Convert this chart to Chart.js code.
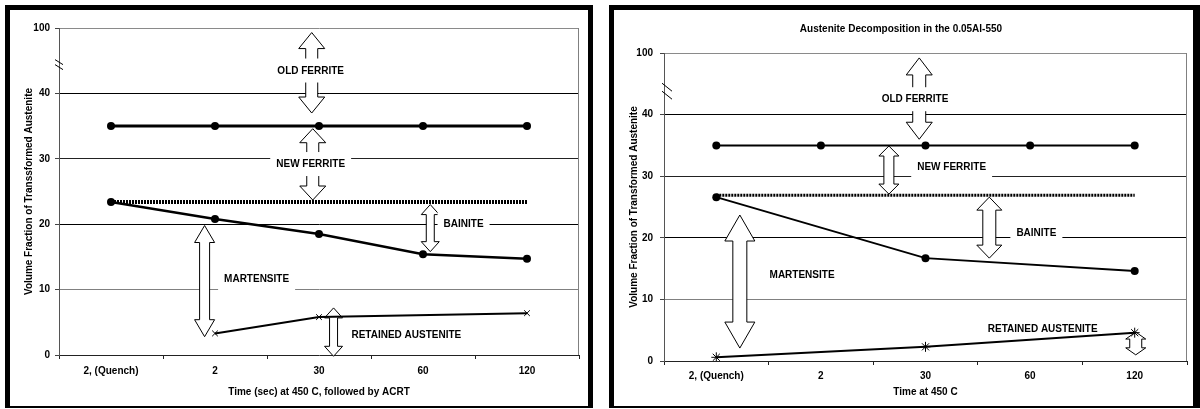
<!DOCTYPE html>
<html><head><meta charset="utf-8">
<script src="https://cdn.jsdelivr.net/npm/chart.js@4.4.1/dist/chart.umd.min.js"></script>
<style>
html,body{margin:0;padding:0;background:#fff;width:1200px;height:409px;overflow:hidden;}
.frame{position:absolute;box-sizing:border-box;border:5px solid #000;border-bottom-width:2px;background:#fff;}
#f1{left:5px;top:5px;width:588px;height:403px;}
#f2{left:609px;top:5px;width:591px;height:403px;border-right-width:7px;}
canvas{position:absolute;}
#c1{left:10px;top:10px;}
#c2{left:614px;top:10px;}
</style></head><body>
<div class="frame" id="f1"></div><div class="frame" id="f2"></div>
<canvas id="c1" width="578" height="396" style="width:578px;height:396px"></canvas>
<canvas id="c2" width="579" height="396" style="width:579px;height:396px"></canvas>
<script>
// ---------- data ----------
const categories = ['2, (Quench)', '2', '30', '60', '120'];
const yTickValues = [0, 10, 20, 30, 40, 50];
const yTickLabels = ['0', '10', '20', '30', '40', '100'];

// left chart (ACRT)
const leftFerrite = [35, 35, 35, 35, 35];
const leftDotted = [23.4, 23.4, 23.4, 23.4, 23.4];
const leftBainiteEdge = [23.4, 20.8, 18.5, 15.4, 14.7];
const leftRetained = [null, 3.3, 5.8, null, 6.4];
const leftPhaseNames = ['OLD FERRITE', 'NEW FERRITE', 'BAINITE', 'MARTENSITE', 'RETAINED AUSTENITE'];
const leftArrowCat = [1.93, 1.94, 3.07, 0.90, 2.14];
const leftArrowFrom = [49.3, 34.6, 23.0, 19.8, 7.2];
const leftArrowTo = [37.0, 23.7, 15.8, 2.8, -0.2];
const leftLabelCat = [1.92, 1.92, 3.39, 1.40, 2.84];
const leftLabelVal = [43.5, 29.2, 20.0, 11.6, 3.1];

// right chart (0.05Al-550)
const rightFerrite = [35, 35, 35, 35, 35];
const rightDotted = [26.9, 26.9, 26.9, 26.9, 26.9];
const rightBainiteEdge = [26.6, null, 16.7, null, 14.6];
const rightRetained = [0.6, null, 2.3, null, 4.6];
const rightPhaseNames = ['OLD FERRITE', 'NEW FERRITE', 'BAINITE', 'MARTENSITE', 'RETAINED AUSTENITE'];
const rightArrowCat = [1.94, 1.65, 2.61, 0.225, 4.01];
const rightArrowFrom = [49.2, 34.9, 26.6, 23.7, 4.7];
const rightArrowTo = [36.0, 27.1, 16.7, 2.1, 1.0];
const rightLabelCat = [1.90, 2.25, 3.06, 0.82, 3.12];
const rightLabelVal = [42.5, 31.5, 20.8, 14.0, 5.2];

// ---------- styles ----------
const FONT = 'Liberation Sans, Arial, sans-serif';
const bold10 = {family: FONT, size: 10, weight: 'bold'};
const gridColors = {0: 'rgba(0,0,0,0)', 10: '#808080', 20: '#000', 30: '#222', 40: '#000', 50: '#8a8a8a'};
// arrow pixel geometry: [head half-width, shaft half-width, head length]
const leftArrowGeom = [[13, 6, 16], [13, 6, 14], [9, 4, 10], [10, 5, 17], [9, 4, 10]];
const rightArrowGeom = [[13, 6.5, 17], [10, 5, 10], [12.5, 6.5, 13], [15, 7, 26], [10, 6, 7]];

const phasePlugin = {
  id: 'phases',
  beforeDatasetsDraw(chart, args, o) {
    const {ctx, chartArea: a, scales: {x, y}} = chart;
    ctx.save();
    ctx.strokeStyle = '#808080'; ctx.lineWidth = 1;
    ctx.beginPath(); ctx.moveTo(Math.round(a.right) - 0.5, a.top); ctx.lineTo(Math.round(a.right) - 0.5, a.bottom); ctx.stroke();
    ctx.strokeStyle = '#000'; ctx.fillStyle = '#fff'; ctx.lineWidth = 1;
    o.arrowCat.forEach((c, i) => {
      const cx = x.getPixelForValue(c);
      const yt = y.getPixelForValue(o.arrowFrom[i]);
      const yb = y.getPixelForValue(o.arrowTo[i]);
      const [hw, sw, hl] = o.geom[i];
      ctx.beginPath();
      ctx.moveTo(cx, yt);
      ctx.lineTo(cx + hw, yt + hl); ctx.lineTo(cx + sw, yt + hl);
      ctx.lineTo(cx + sw, yb - hl); ctx.lineTo(cx + hw, yb - hl);
      ctx.lineTo(cx, yb);
      ctx.lineTo(cx - hw, yb - hl); ctx.lineTo(cx - sw, yb - hl);
      ctx.lineTo(cx - sw, yt + hl); ctx.lineTo(cx - hw, yt + hl);
      ctx.closePath(); ctx.fill(); ctx.stroke();
    });
    ctx.font = 'bold 10px ' + FONT;
    ctx.textAlign = 'center'; ctx.textBaseline = 'middle';
    o.names.forEach((t, i) => {
      const px = x.getPixelForValue(o.labelCat[i]);
      const py = y.getPixelForValue(o.labelVal[i]);
      const w = ctx.measureText(t).width + 12;
      ctx.fillStyle = '#fff';
      ctx.fillRect(px - w / 2, py - 12, w, 24);
      ctx.fillStyle = '#000';
      ctx.fillText(t, px, py + 0.5);
    });
    ctx.restore();
  },
  afterDraw(chart, args, o) {
    const {ctx, scales: {x, y}} = chart;
    const ax = x.left;
    const yb = y.getPixelForValue(o.breakAt);
    const [dx0, dx1, dy, gap] = o.breakGeom;
    ctx.save();
    ctx.strokeStyle = '#000'; ctx.lineWidth = 1;
    [-gap / 2, gap / 2].forEach(off => {
      ctx.beginPath();
      ctx.moveTo(ax + dx0, yb + off - dy);
      ctx.lineTo(ax + dx1, yb + off + dy);
      ctx.stroke();
    });
    ctx.restore();
  }
};

function makeChart(id, cfg) {
  return new Chart(document.getElementById(id), {
    type: 'line',
    data: {
      labels: categories,
      datasets: [
        {data: cfg.dotted, borderColor: '#000', borderWidth: cfg.dotW, borderDash: [2, 1], pointRadius: 0, borderCapStyle: 'butt'},
        {data: cfg.ferrite, borderColor: '#000', borderWidth: cfg.lineW1, pointRadius: 4, pointBackgroundColor: '#000', pointBorderColor: '#000', pointBorderWidth: 0},
        {data: cfg.bainite, borderColor: '#000', borderWidth: cfg.lineW2, pointRadius: 4, pointBackgroundColor: '#000', pointBorderColor: '#000', pointBorderWidth: 0, spanGaps: true},
        {data: cfg.retained, borderColor: '#000', borderWidth: 2, pointStyle: cfg.marker, pointRadius: cfg.markerR, pointBorderColor: '#000', pointBorderWidth: 1, pointBackgroundColor: '#000', spanGaps: true}
      ]
    },
    options: {
      responsive: false, animation: false,
      layout: {padding: cfg.padding},
      plugins: {
        legend: {display: false}, tooltip: {enabled: false},
        title: cfg.title ? {display: true, text: cfg.title, color: '#000', font: bold10, padding: {top: 13, bottom: 18}} : {display: false},
        phases: cfg.phases
      },
      scales: {
        x: {
          type: 'category', offset: true,
          afterFit(s) { s.height = cfg.xH; },
          border: {color: '#222', width: 1},
          grid: {offset: true, drawOnChartArea: false, tickLength: 4, color: '#222'},
          ticks: {color: '#000', font: bold10, padding: cfg.xPad, maxRotation: 0, autoSkip: false},
          title: {display: true, text: cfg.xTitle, color: '#000', font: bold10, padding: {top: 0, bottom: 8}}
        },
        y: {
          min: 0, max: 50,
          afterFit(s) { s.width = cfg.yW; },
          afterBuildTicks(s) { s.ticks = yTickValues.map(v => ({value: v})); },
          border: {color: '#555', width: 1},
          grid: {color: c => gridColors[c.tick.value] || '#000', tickColor: '#444', tickLength: 4, lineWidth: 1},
          ticks: {color: '#000', font: bold10, padding: cfg.yPad,
            callback: (v) => yTickLabels[yTickValues.indexOf(v)]},
          title: {display: true, text: cfg.yTitle, color: '#000', font: bold10, padding: {top: cfg.yTitlePad, bottom: 0}}
        }
      }
    },
    plugins: [phasePlugin]
  });
}

makeChart('c1', {
  dotted: leftDotted, ferrite: leftFerrite, bainite: leftBainiteEdge, retained: leftRetained,
  dotW: 4, lineW1: 3, lineW2: 2.5, marker: 'crossRot', markerR: 4,
  padding: {top: 18, right: 9, left: 0, bottom: 0}, xH: 51, yW: 49, xPad: 6, yPad: 5, yTitlePad: 13,
  xTitle: 'Time (sec) at 450 C, followed by ACRT', title: null,
  yTitle: 'Volume Fraction of Transsformed Austenite',
  phases: {names: leftPhaseNames, arrowCat: leftArrowCat, arrowFrom: leftArrowFrom, arrowTo: leftArrowTo,
    labelCat: leftLabelCat, labelVal: leftLabelVal, geom: leftArrowGeom, breakAt: 44.4, breakGeom: [-4, 4, 2.5, 5]}
});

makeChart('c2', {
  dotted: rightDotted, ferrite: rightFerrite, bainite: rightBainiteEdge, retained: rightRetained,
  dotW: 3, lineW1: 2, lineW2: 2, marker: 'star', markerR: 5,
  padding: {top: 0, right: 5, left: 0, bottom: 0}, xH: 45, yW: 50, xPad: 5, yPad: 7, yTitlePad: 14,
  xTitle: 'Time at 450 C', title: 'Austenite Decomposition in the 0.05Al-550',
  yTitle: 'Volume Fraction of Transformed Austenite',
  phases: {names: rightPhaseNames, arrowCat: rightArrowCat, arrowFrom: rightArrowFrom, arrowTo: rightArrowTo,
    labelCat: rightLabelCat, labelVal: rightLabelVal, geom: rightArrowGeom, breakAt: 43.8, breakGeom: [-2, 8, 4, 8]}
});
</script>
</body></html>
